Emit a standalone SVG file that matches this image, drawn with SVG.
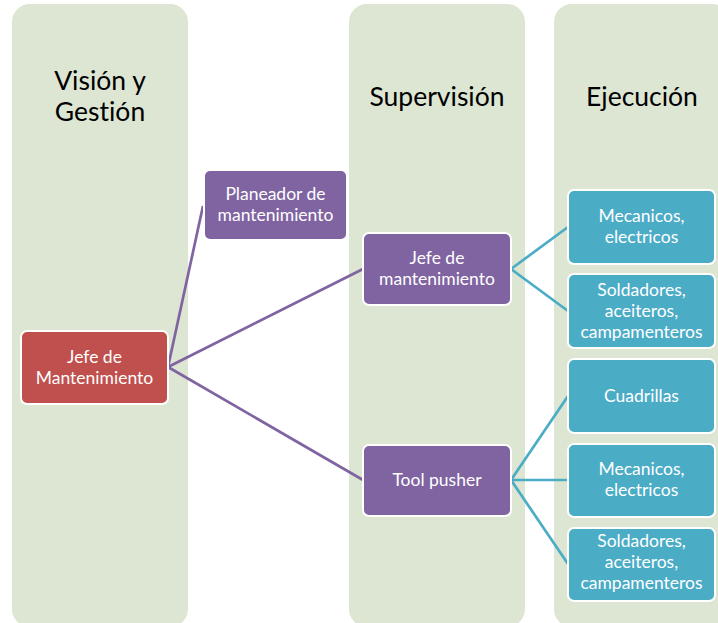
<svg xmlns="http://www.w3.org/2000/svg" width="718" height="623" viewBox="0 0 718 623">
  <style>
    .col { fill: #dde6d2; }
    text { font-variant-ligatures: none; font-feature-settings: "liga" 0, "dlig" 0; }
    .hdr { font-family: Lato, "Open Sans", "Liberation Sans", sans-serif; font-size: 26.5px; fill: #000; text-anchor: middle; }
    .box { stroke: #ffffff; stroke-width: 2; }
    .red { fill: #c0504d; }
    .pur { fill: #8064a2; }
    .blu { fill: #4bacc6; }
    .lbl { font-family: Lato, "Open Sans", "Liberation Sans", sans-serif; font-size: 17.5px; fill: #ffffff; text-anchor: middle; }
    .lp { stroke: #8064a2; stroke-width: 2.7; fill: none; }
    .lb { stroke: #4bacc6; stroke-width: 2.7; fill: none; }
  </style>

  <!-- level columns -->
  <g id="columns">
    <rect class="col" x="12" y="4" width="176" height="623" rx="18"/>
    <rect class="col" x="349" y="4" width="176" height="623" rx="18"/>
    <rect class="col" x="554" y="4" width="176" height="623" rx="18"/>
    <text class="hdr" x="100" y="90">Visión y</text>
    <text class="hdr" x="100" y="121">Gestión</text>
    <text class="hdr" x="437" y="106">Supervisión</text>
    <text class="hdr" x="642" y="106">Ejecución</text>
  </g>

  <!-- connectors -->
  <g id="connectors">
    <line class="lp" x1="168" y1="367" x2="203" y2="206"/>
    <line class="lp" x1="168" y1="367" x2="363" y2="269"/>
    <line class="lp" x1="168" y1="367" x2="363" y2="480"/>
    <line class="lb" x1="511" y1="269" x2="568" y2="227"/>
    <line class="lb" x1="511" y1="269" x2="568" y2="311"/>
    <line class="lb" x1="511" y1="480" x2="568" y2="396"/>
    <line class="lb" x1="511" y1="480" x2="568" y2="480"/>
    <line class="lb" x1="511" y1="480" x2="568" y2="564"/>
  </g>

  <g id="jefe-mantenimiento-root">
    <rect class="box red" x="21" y="331" width="147" height="73" rx="6"/>
    <text class="lbl" x="94.5" y="363">Jefe de</text>
    <text class="lbl" x="94.5" y="384">Mantenimiento</text>
  </g>

  <g id="planeador">
    <rect class="box pur" x="204" y="170" width="143" height="70" rx="6"/>
    <text class="lbl" x="275.5" y="200">Planeador de</text>
    <text class="lbl" x="275.5" y="221">mantenimiento</text>
  </g>

  <g id="jefe-mantenimiento-sup">
    <rect class="box pur" x="363" y="233" width="148" height="72" rx="6"/>
    <text class="lbl" x="437" y="264">Jefe de</text>
    <text class="lbl" x="437" y="285">mantenimiento</text>
  </g>

  <g id="tool-pusher">
    <rect class="box pur" x="363" y="445" width="148" height="71" rx="6"/>
    <text class="lbl" x="437" y="486">Tool pusher</text>
  </g>

  <g id="mecanicos-1">
    <rect class="box blu" x="568" y="190" width="147" height="74" rx="6"/>
    <text class="lbl" x="641.5" y="222">Mecanicos,</text>
    <text class="lbl" x="641.5" y="243">electricos</text>
  </g>

  <g id="soldadores-1">
    <rect class="box blu" x="568" y="274" width="147" height="74" rx="6"/>
    <text class="lbl" x="641.5" y="296">Soldadores,</text>
    <text class="lbl" x="641.5" y="317">aceiteros,</text>
    <text class="lbl" x="641.5" y="338">campamenteros</text>
  </g>

  <g id="cuadrillas">
    <rect class="box blu" x="568" y="359" width="147" height="74" rx="6"/>
    <text class="lbl" x="641.5" y="402">Cuadrillas</text>
  </g>

  <g id="mecanicos-2">
    <rect class="box blu" x="568" y="444" width="147" height="73" rx="6"/>
    <text class="lbl" x="641.5" y="475">Mecanicos,</text>
    <text class="lbl" x="641.5" y="496">electricos</text>
  </g>

  <g id="soldadores-2">
    <rect class="box blu" x="568" y="528" width="147" height="73" rx="6"/>
    <text class="lbl" x="641.5" y="547">Soldadores,</text>
    <text class="lbl" x="641.5" y="568">aceiteros,</text>
    <text class="lbl" x="641.5" y="589">campamenteros</text>
  </g>
</svg>
